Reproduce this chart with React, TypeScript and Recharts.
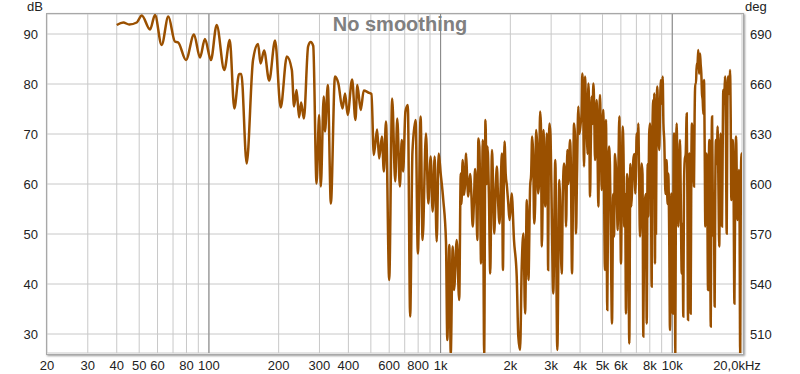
import React from 'react';
import { LineChart, Line, XAxis, YAxis, CartesianGrid, ReferenceLine } from 'recharts';

// magnitude response (Hz / dB)
const lowFreq = [
  40, 42.7, 45.3, 48.8, 51.3, 55.7, 58.5, 62.5, 66.8, 71.3, 73.7, 79.6, 86.2, 91.5, 96.1,
  102, 108, 116.5, 123, 128.7, 135, 138, 145.5, 155, 163, 167, 173, 182, 193, 204, 217,
  228, 233, 239, 245, 250, 257, 268, 275, 282,
];
const lowDb = [
  91.8, 92.3, 91.9, 92.3, 93.7, 90.9, 93.8, 87.8, 93.5, 88.5, 88.3, 84.8, 89.9, 85.3, 89,
  84.8, 91.8, 82.8, 88.8, 75.1, 82, 82, 64.1, 84.8, 88, 84.1, 86.7, 80.7, 88.7, 75.3, 85.5,
  82.8, 75.5, 78.8, 73.3, 76.3, 73.1, 87.5, 88.4, 87.6,
];

const midFreq = [
  291.5, 299, 304, 313, 317, 326, 336, 350, 362, 377, 387, 397, 415, 429, 437, 452, 466,
  487, 503, 515, 532, 543, 558, 569, 581, 600, 618, 637, 650, 667, 680, 689, 705, 722, 739,
  756, 780, 798, 820, 836, 865, 885, 906, 924, 943, 962, 981, 1001, 1027, 1055, 1069, 1091,
  1106, 1128, 1143, 1174, 1203, 1222, 1245, 1262, 1288, 1317, 1340, 1376, 1409, 1441, 1456,
  1470, 1495, 1521, 1542, 1562, 1594, 1638, 1666, 1704, 1750, 1796, 1840, 1858, 1888, 1934,
  1984,
];
const midDb = [
  60.1, 73.8, 59.5, 77.5, 70.5, 79.8, 56.1, 81.5, 80.1, 75.1, 78.1, 73.8, 80.9, 72.8, 79.8,
  74.8, 78.7, 78.3, 78, 65.8, 70.9, 65.1, 69.5, 62.5, 72.5, 40.8, 77.1, 60.5, 73.1, 59.5,
  68.8, 62.5, 74.5, 75.8, 33.5, 66.5, 72.8, 46.1, 73.5, 48.8, 70.1, 56.1, 65.5, 54.5, 65.5,
  48.5, 66.1, 62.1, 56.8, 48.5, 28.8, 47.8, 26, 47.5, 38.8, 48.8, 36.8, 62.1, 64.8, 57.8,
  66.1, 57.5, 62, 51.5, 63, 48.8, 69.1, 67.5, 44.1, 68.8, 26, 72.8, 67.5, 42.1, 66.8, 50.1,
  63.5, 52.1, 66.1, 42.8, 68.5, 59.5, 52.8,
];

const highFreq = [
  2027, 2074, 2131, 2165, 2203, 2240, 2278, 2316, 2356, 2394, 2435, 2484, 2534, 2584, 2636,
  2689, 2735, 2779, 2827, 2874, 2912, 2950, 3005, 3065, 3127, 3190, 3254, 3333, 3411, 3480,
  3525, 3619, 3692, 3767, 3843, 3932, 4024, 4090, 4159, 4201, 4273, 4342, 4416, 4490, 4563,
  4641, 4720, 4797, 4878, 4962, 5037, 5123, 5175, 5242, 5332, 5423, 5494, 5605, 5718, 5816,
  5910, 6006, 6108, 6206, 6313, 6440, 6525, 6657, 6791, 6928, 7021, 7134, 7256, 7380, 7499,
  7627, 7757, 7883, 8012, 8150, 8281, 8364, 8422, 8507, 8617, 8791, 8940, 9090, 9236, 9459,
  9611, 9776, 9906, 10040, 10175, 10307, 10452, 10620, 10800, 10985, 11160, 11320, 11545,
  11696, 11848, 12006, 12163, 12408, 12570, 12750, 12953, 13175, 13348, 13533, 13710, 13890,
  14084, 14270, 14460, 14660, 14855, 15030, 15240, 15440, 15700, 15950, 16175, 16390, 16605,
  16890, 17180, 17410, 17760, 17990, 18250, 18545, 18860, 19110, 19380, 19640, 19900, 20000,
];
const highDb = [
  58.1, 48.8, 41.5, 29.5, 26.8, 43.5, 50.1, 34.1, 56.8, 40.8, 59.5, 69.5, 52.1, 70.8, 58.1,
  74.5, 47.5, 70.8, 55.5, 70.1, 42.8, 72.1, 60.8, 38.1, 64.8, 26.8, 60.8, 42.1, 64.1, 51.5,
  66.8, 68.8, 42.1, 72.1, 50.1, 75.5, 72.1, 82.1, 63.5, 81.5, 70.8, 80.1, 57.5, 77.5, 80.1,
  64.8, 76.8, 55.5, 77.8, 58.8, 74.8, 42.8, 72.8, 34.8, 67.5, 52.1, 32.1, 49.5, 62.8, 50.8,
  73.5, 44.1, 71.5, 51.5, 34.1, 60.1, 28.1, 55.5, 64.8, 58.1, 70.1, 72.1, 49.5, 64.1, 29.5,
  56.8, 32.1, 53.5, 72.1, 39.5, 76.8, 78.1, 44.1, 50.1, 79.5, 66.8, 80.8, 81.5, 68.7, 64.8,
  62.1, 30.8, 58.1, 34.1, 70.1, 26.2, 72.1, 51.5, 68.8, 42.1, 33.5, 64.8, 74.1,
  32.8, 66.1, 34.1, 72.1, 59.5, 80.1, 84.1, 86.8, 86.1, 82.1, 76.8, 80.8, 51.5,
  66.1, 38.8, 68.8, 31.5, 73.5, 49.5, 35.5, 68.8, 71.5, 47.5, 70.1, 51.5, 78.8,
  81.5, 50.1, 81.5, 82.8, 56.8, 68.8, 36.1, 69.5, 52.8, 62.8, 26.2, 66.1, 62,
];

// extra wiggles inside the dense bands (merged by frequency)
const fillFreq = [
  1230, 1275, 1300, 1358, 1392, 1425, 1480, 1508, 1580, 1616, 1652, 1685, 1727, 1773, 1818,
  1873, 1910, 1960, 2005, 2460, 2510, 2560, 2610, 2660, 2710, 2760, 2800, 2850, 2890, 2930,
  2980, 3370, 3450, 3560, 3650, 3730, 3800, 3880, 3970, 4060, 4120, 4180, 4240, 4310, 4380,
  4450, 4530, 4600, 4680, 4760, 4840, 4920, 5000, 5290, 5380, 5560, 5660, 5770, 5860, 5960,
  6060, 6160, 6260, 6380, 6590, 6720, 6860, 6970, 7080, 7190, 7320, 7440, 7570, 7700, 7830,
  7950, 8080, 8220, 8320, 8460, 8560, 8700, 8860, 9020, 9160, 9350, 9540, 9700, 10110, 10240,
  10380, 10540, 10710, 10890, 11070, 11240, 11430, 11620, 11770, 11930, 12080, 12280, 12490,
  12660, 12850, 13060, 13260, 13440, 13620, 13800, 13990, 14170, 14360, 14560, 14760, 14940,
  15130, 15340, 15570, 15820, 16060, 16280, 16500, 16750, 17030, 17300, 17580, 17870, 18120,
  18400, 18700, 18980, 19250, 19510, 19770,
];
const fillDb = [
  56, 60, 62, 58, 56, 58, 60, 56, 60, 58, 54, 60, 58, 56, 60,
  58, 62, 56, 55, 62, 66, 56, 68, 60, 72, 58, 66, 60, 68, 64,
  70, 58, 62, 60, 64, 58, 70, 62, 70, 74, 78, 70, 76, 66, 74,
  68, 72, 76, 70, 66, 72, 68, 70, 60, 64, 58, 66, 56, 64, 58,
  60, 66, 58, 62, 64, 60, 66, 62, 66, 62, 58, 62, 54, 58, 64,
  70, 66, 72, 68, 72, 74, 72, 76, 76, 72, 58, 56, 50, 54, 60,
  64, 58, 62, 56, 52, 60, 66, 58, 62, 56, 62, 68, 74,
  80, 84, 82, 84, 78, 74, 68, 62, 56, 60, 58, 62, 60,
  56, 60, 64, 60, 62, 60, 66, 76, 72, 76, 78, 74, 62,
  58, 60, 62, 58, 56, 60,
];

const gridFreqs = [
  20, 30, 40, 50, 60, 70, 80, 90, 100, 200, 300, 400, 500, 600, 700, 800, 900,
  1000, 2000, 3000, 4000, 5000, 6000, 7000, 8000, 9000, 10000, 20000,
];
const freqLabels: Record<number, string> = {
  20: '20', 30: '30', 40: '40', 50: '50', 60: '60', 80: '80', 100: '100', 200: '200',
  300: '300', 400: '400', 600: '600', 800: '800', 1000: '1k', 2000: '2k', 3000: '3k',
  4000: '4k', 5000: '5k', 6000: '6k', 8000: '8k', 10000: '10k', 20000: '20,0kHz',
};
const dbTicks = [30, 40, 50, 60, 70, 80, 90];
const degTicks = [510, 540, 570, 600, 630, 660, 690];
const decadeLines = [100, 1000, 10000];

const freqs = [...lowFreq, ...midFreq, ...highFreq, ...fillFreq];
const dbs = [...lowDb, ...midDb, ...highDb, ...fillDb];
const data = freqs.map((f, i) => ({ f, db: dbs[i] })).sort((a, b) => a.f - b.f);

const FONT = '"Liberation Sans", Arial, sans-serif';

const FreqTick = (props: any) => {
  const { x, y, payload } = props;
  const label = freqLabels[payload.value];
  if (!label) return null;
  const dx = payload.value === 20000 ? -5 : 0;
  return (
    <text x={x + dx} y={y} dy={9} textAnchor="middle" fontSize={13} fontFamily={FONT} fill="#222">
      {label}
    </text>
  );
};

const App = () => {
  return (
    <div style={{ position: 'relative', width: 800, height: 374, background: '#fff' }}>
      <style>{'body{margin:0}'}</style>
      <LineChart width={800} height={374} data={data} margin={{ top: 14, right: 0, bottom: 0, left: 0 }}>
        <CartesianGrid stroke="#c8c8c8" yAxisId="db" />
        <XAxis
          dataKey="f"
          type="number"
          scale="log"
          domain={[20, 20000]}
          ticks={gridFreqs}
          allowDataOverflow
          height={21}
          tickLine={false}
          axisLine={false}
          tick={<FreqTick />}
          interval={0}
        />
        <YAxis
          yAxisId="db"
          domain={[26.2, 94]}
          ticks={dbTicks}
          allowDataOverflow
          width={47}
          tickLine={false}
          axisLine={false}
          tick={{ fontSize: 13, fill: '#222', fontFamily: FONT, dx: -1 }}
        />
        <YAxis
          yAxisId="deg"
          orientation="right"
          domain={[498.6, 702]}
          ticks={degTicks}
          allowDataOverflow
          width={58}
          tickLine={false}
          axisLine={false}
          tick={{ fontSize: 13, fill: '#222', fontFamily: FONT, textAnchor: 'start' }}
        />
        {decadeLines.map((f) => (
          <ReferenceLine key={f} x={f} yAxisId="db" stroke="#858585" strokeWidth={1} />
        ))}
        <Line
          yAxisId="db"
          dataKey="db"
          type="monotone"
          stroke="#9a5000"
          strokeWidth={2.5}
          dot={false}
          isAnimationActive={false}
        />
      </LineChart>
      <div
        style={{
          position: 'absolute', left: 46, top: 13, width: 696, height: 340,
          border: '1px solid #a8a8a8', boxShadow: '1px 1px 2px #9a9a9a', pointerEvents: 'none',
        }}
      />
      <div style={{ position: 'absolute', left: 0, top: 13, width: 800, textAlign: 'center', font: `bold 20px ${FONT}`, color: '#808080' }}>
        No smoothing
      </div>
      <div style={{ position: 'absolute', left: 27, top: 0, font: `13px/14px ${FONT}`, color: '#222' }}>dB</div>
      <div style={{ position: 'absolute', left: 745, top: 0, font: `13px/14px ${FONT}`, color: '#222' }}>deg</div>
    </div>
  );
};

export default App;
